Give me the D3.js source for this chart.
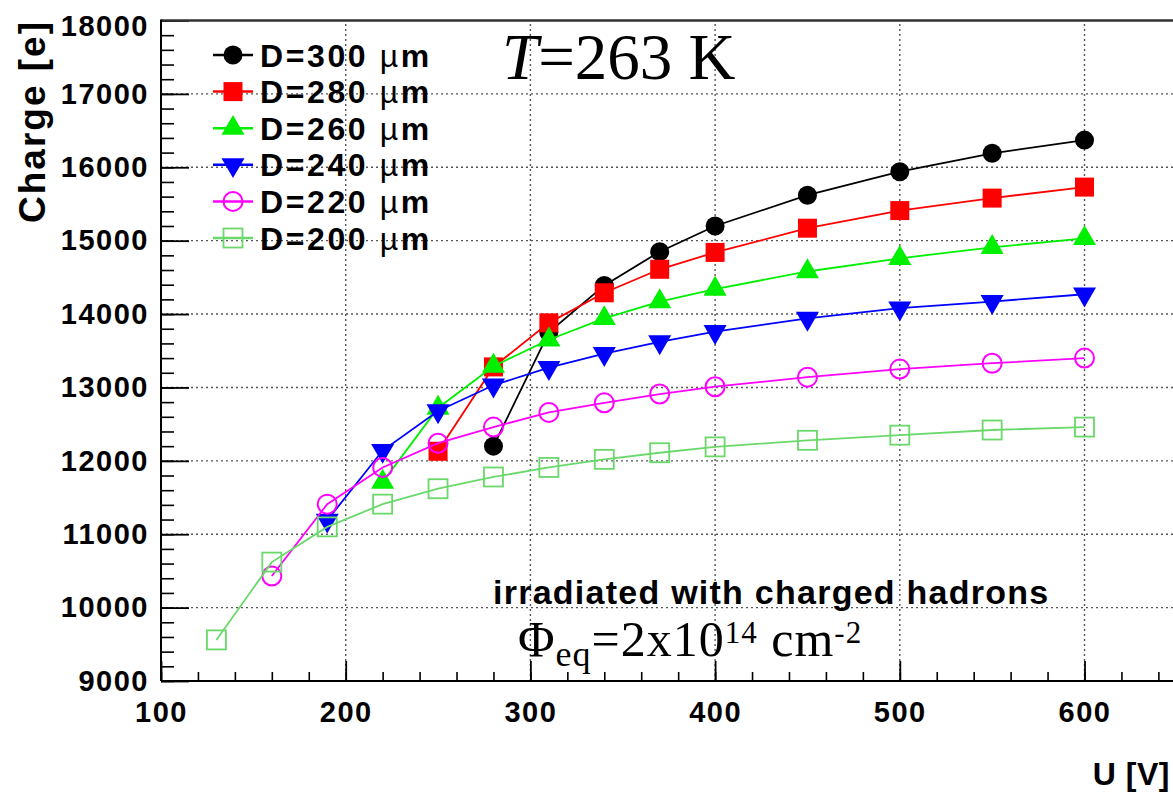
<!DOCTYPE html>
<html><head><meta charset="utf-8">
<script src="https://cdn.jsdelivr.net/npm/d3@7"></script>
<style>
html,body{margin:0;padding:0;background:#fff;}
svg{display:block;}
</style></head>
<body>
<svg id="chart" width="1173" height="796"></svg>
<script>
// ---- data ----
const voltages = [130,160,190,220,250,280,310,340,370,400,450,500,550,600];
const seriesNames = ["D=300 ", "D=280 ", "D=260 ", "D=240 ", "D=220 ", "D=200 "];
const charge300 = [12200,13750,14390,14850,15200,15620,15940,16190,16370];
const charge280 = [12130,13280,13880,14290,14610,14840,15170,15410,15580,15730];
const charge260 = [11710,12720,13290,13650,13940,14170,14340,14580,14760,14910,15030];
const charge240 = [11190,12140,12680,13030,13270,13460,13620,13760,13940,14080,14170,14270];
const charge220 = [10430,11410,11910,12240,12460,12660,12790,12910,13010,13140,13250,13330,13400];
const charge200 = [9560,10620,11100,11410,11620,11780,11910,12020,12110,12190,12280,12350,12420,12460];
const xMajorTicks = [100,200,300,400,500,600];
const yMajorTicks = [9000,10000,11000,12000,13000,14000,15000,16000,17000,18000];

const chargeSets = [charge300, charge280, charge260, charge240, charge220, charge200];
const colors = ["#000000","#ff0000","#00f000","#0000ff","#ff00ff","#6ad86a"];
const markers = ["circleFill","squareFill","triUp","triDown","circleOpen","squareOpen"];

const series = chargeSets.map((vals,i)=>{
  const vs = voltages.slice(voltages.length - vals.length);
  return {name: seriesNames[i], color: colors[i], marker: markers[i],
          pts: vals.map((q,j)=>({v: vs[j], q}))};
});

// ---- layout ----
const svg = d3.select("#chart");
const x = d3.scaleLinear().domain([100, 660]).range([161, 161 + 560*1.847]);
const y = d3.scaleLinear().domain([9000, 18000]).range([681, 20.5]);
const X0 = x(100), X1 = x(660), Y0 = y(9000), Y1 = y(18000);
const SANS = "'Liberation Sans', Arial, Helvetica, sans-serif";
const SERIF = "'Liberation Serif', 'Times New Roman', serif";

svg.append("rect").attr("width",1173).attr("height",796).attr("fill","#fff");

// grid
const grid = svg.append("g").attr("stroke","#555").attr("stroke-width",1.4).attr("stroke-dasharray","2,3");
grid.selectAll("line.gx").data(xMajorTicks.slice(1)).join("line")
  .attr("x1",d=>x(d)).attr("x2",d=>x(d)).attr("y1",Y0).attr("y2",Y1);
grid.selectAll("line.gy").data(yMajorTicks.slice(1,-1)).join("line")
  .attr("x1",X0).attr("x2",X1).attr("y1",d=>y(d)).attr("y2",d=>y(d));

// axes
const tickFont = g => g.selectAll("text")
  .attr("font-family",SANS)
  .attr("font-weight","bold").attr("font-size",29).attr("fill","#000")
  .style("letter-spacing","1.5px");

const yMajor = svg.append("g").attr("transform",`translate(${X0},0)`)
  .call(d3.axisLeft(y).tickValues(yMajorTicks).tickSize(-28).tickPadding(12).tickFormat(d3.format("d")));
yMajor.call(tickFont);
yMajor.selectAll("line").attr("stroke","#000").attr("stroke-width",1.8);
yMajor.selectAll(".tick").filter(d=>d===18000).select("text").attr("dy","0.5em");
yMajor.select(".domain").remove();

const yMinor = svg.append("g").attr("transform",`translate(${X0},0)`)
  .call(d3.axisLeft(y).tickValues(d3.range(9000,18001,200)).tickSize(-13).tickFormat(""));
yMinor.selectAll("line").attr("stroke","#000").attr("stroke-width",1.6);
yMinor.select(".domain").remove();

const xMajor = svg.append("g").attr("transform",`translate(0,${Y0})`)
  .call(d3.axisBottom(x).tickValues(xMajorTicks).tickSize(-20).tickPadding(20).tickFormat(d3.format("d")));
xMajor.call(tickFont);
xMajor.selectAll("line").attr("stroke","#000").attr("stroke-width",1.8);
xMajor.select(".domain").remove();

const xMinor = svg.append("g").attr("transform",`translate(0,${Y0})`)
  .call(d3.axisBottom(x).tickValues(d3.range(100,661,20)).tickSize(-9).tickFormat(""));
xMinor.selectAll("line").attr("stroke","#000").attr("stroke-width",1.6);
xMinor.select(".domain").remove();

// frame
svg.append("line").attr("x1",X0).attr("x2",X1).attr("y1",Y1).attr("y2",Y1).attr("stroke","#333").attr("stroke-width",2.5);
svg.append("line").attr("x1",X0).attr("x2",X0).attr("y1",Y1-1).attr("y2",Y0).attr("stroke","#000").attr("stroke-width",2);
svg.append("line").attr("x1",X0).attr("x2",X1).attr("y1",Y0).attr("y2",Y0).attr("stroke","#000").attr("stroke-width",2);

// markers
function drawMarker(g, type, color){
  if(type==="circleFill") g.append("circle").attr("r",9.5).attr("fill",color);
  else if(type==="squareFill") g.append("rect").attr("x",-9.5).attr("y",-9.5).attr("width",19).attr("height",19).attr("fill",color);
  else if(type==="triUp") g.append("path").attr("d",d3.symbol(d3.symbolTriangle,230)()).attr("fill",color);
  else if(type==="triDown") g.append("path").attr("d",d3.symbol(d3.symbolTriangle,230)()).attr("transform","rotate(180)").attr("fill",color);
  else if(type==="circleOpen") g.append("circle").attr("r",9.5).attr("fill","none").attr("stroke",color).attr("stroke-width",2);
  else if(type==="squareOpen") g.append("rect").attr("x",-9.5).attr("y",-9.5).attr("width",19).attr("height",19).attr("fill","none").attr("stroke",color).attr("stroke-width",1.8);
}

const line = d3.line().x(d=>x(d.v)).y(d=>y(d.q));
series.forEach(s=>{
  const g = svg.append("g");
  g.append("path").attr("d",line(s.pts)).attr("fill","none").attr("stroke",s.color).attr("stroke-width",1.8);
  s.pts.forEach(p=>{
    const m = g.append("g").attr("transform",`translate(${x(p.v)},${y(p.q)})`);
    drawMarker(m, s.marker, s.color);
  });
});

// legend (transparent: grid shows through)
const leg = svg.append("g");
series.forEach((s,i)=>{
  const cy = 55 + i*36.6;
  const r = leg.append("g").attr("transform",`translate(0,${cy})`);
  r.append("line").attr("x1",213).attr("x2",253).attr("y1",0).attr("y2",0).attr("stroke",s.color).attr("stroke-width",2.5);
  drawMarker(r.append("g").attr("transform","translate(233,0)"), s.marker, s.color);
  const t = r.append("text").attr("x",260).attr("y",11.5)
    .attr("font-family",SANS).attr("font-size",32).attr("fill","#000")
    .style("letter-spacing","2.6px");
  t.append("tspan").attr("font-weight","bold").text(s.name);
  t.append("tspan").attr("font-weight","normal").text("\u00B5");
  t.append("tspan").attr("font-weight","bold").text("m");
});

// axis titles
svg.append("text").attr("transform","translate(45,20) rotate(-90)").attr("text-anchor","end")
  .attr("font-family",SANS).attr("font-weight","bold").attr("font-size",37)
  .style("letter-spacing","2px").text("Charge [e]");
svg.append("text").attr("x",1170).attr("y",785).attr("text-anchor","end")
  .attr("font-family",SANS).attr("font-weight","bold").attr("font-size",32)
  .style("letter-spacing","0.5px").text("U [V]");

// annotations
const tT = svg.append("text").attr("x",502).attr("y",79)
  .attr("font-family",SERIF).attr("font-size",65).attr("fill","#000");
tT.append("tspan").attr("font-style","italic").text("T");
tT.append("tspan").text("=263 K");

svg.append("text").attr("x",493).attr("y",604)
  .attr("font-family",SANS).attr("font-weight","bold").attr("font-size",34)
  .style("letter-spacing","1.25px").text("irradiated with charged hadrons");

const phi = svg.append("text").attr("x",518).attr("y",656)
  .attr("font-family",SERIF).attr("font-size",50).attr("fill","#000")
  .style("letter-spacing","1px");
phi.append("tspan").text("\u03A6");
phi.append("tspan").attr("font-size",36).attr("dy",10).text("eq");
phi.append("tspan").attr("dy",-10).text("=2x10");
phi.append("tspan").attr("font-size",31).attr("dy",-13).text("14");
phi.append("tspan").attr("dy",13).text(" cm");
phi.append("tspan").attr("font-size",31).attr("dy",-13).text("-2");
</script>
</body></html>
